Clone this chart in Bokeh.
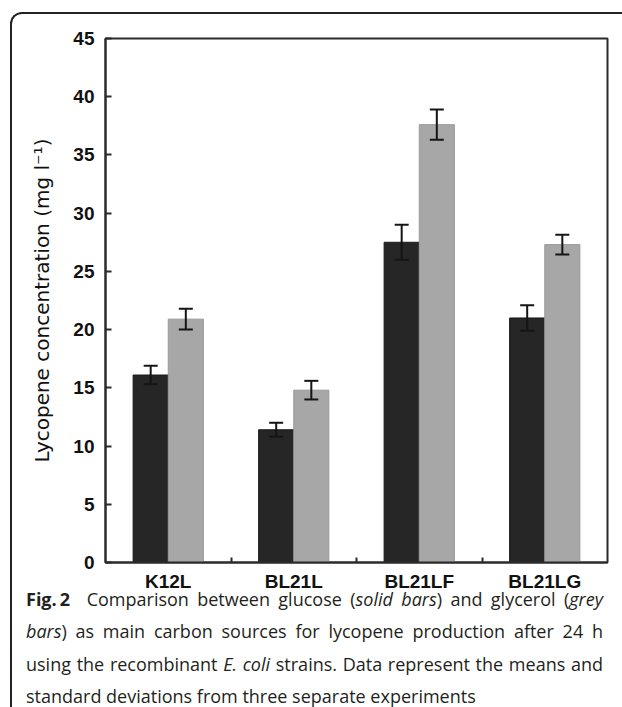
from bokeh.plotting import figure
from bokeh.models import ColumnDataSource, Range1d, FixedTicker, Whisker, TeeHead, Div
from bokeh.layouts import column
from bokeh.embed import file_html
from bokeh.resources import INLINE

# ---- data ----
categories = ["K12L", "BL21L", "BL21LF", "BL21LG"]
glucose = [16.1, 11.4, 27.5, 21.0]
glucose_sd = [0.8, 0.6, 1.5, 1.1]
glycerol = [20.9, 14.8, 37.6, 27.3]
glycerol_sd = [0.9, 0.8, 1.3, 0.85]
y_ticks = [0, 5, 10, 15, 20, 25, 30, 35, 40, 45]
y_label = "Lycopene concentration (mg l\u207b\u00b9)"

# ---- styling ----
DARK = "#262626"
GREY = "#a7a7a7"
AXIS = "#2b2b2b"
BAR_W = 0.28
DODGE = 0.14

n = len(categories)
centers = [i + 0.5 for i in range(n)]
x_glu = [c - DODGE for c in centers]
x_gly = [c + DODGE for c in centers]

src_glu = ColumnDataSource(dict(
    x=x_glu, top=glucose,
    upper=[v + s for v, s in zip(glucose, glucose_sd)],
    lower=[v - s for v, s in zip(glucose, glucose_sd)]))
src_gly = ColumnDataSource(dict(
    x=x_gly, top=glycerol,
    upper=[v + s for v, s in zip(glycerol, glycerol_sd)],
    lower=[v - s for v, s in zip(glycerol, glycerol_sd)]))

p = figure(width=603, height=582, output_backend="svg", toolbar_location=None,
           x_range=Range1d(0, n), y_range=Range1d(y_ticks[0], y_ticks[-1]),
           min_border_left=93, min_border_right=8, min_border_top=24,
           min_border_bottom=34)
p.background_fill_color = "white"
p.border_fill_color = "white"
p.outline_line_color = AXIS
p.outline_line_width = 2
p.xgrid.visible = False
p.ygrid.visible = False

p.vbar(x="x", top="top", width=BAR_W, bottom=0, source=src_glu,
       fill_color=DARK, line_color="#1a1a1a", line_width=1)
p.vbar(x="x", top="top", width=BAR_W, bottom=0, source=src_gly,
       fill_color=GREY, line_color="#9a9a9a", line_width=1)

for src in (src_glu, src_gly):
    p.add_layout(Whisker(source=src, base="x", upper="upper", lower="lower",
                         level="overlay",
                         line_color="#151515", line_width=2,
                         upper_head=TeeHead(size=14, line_width=2, line_color="#151515"),
                         lower_head=TeeHead(size=14, line_width=2, line_color="#151515")))

# y axis
ya = p.yaxis[0]
ya.ticker = FixedTicker(ticks=y_ticks, minor_ticks=[])
ya.axis_line_color = AXIS
ya.axis_line_width = 2
ya.major_tick_in = 6
ya.major_tick_out = 0
ya.major_tick_line_width = 2
ya.major_tick_line_color = AXIS
ya.minor_tick_line_color = None
ya.major_label_text_font = "Liberation Sans"
ya.major_label_text_font_style = "bold"
ya.major_label_text_font_size = "19px"
ya.major_label_text_color = "#111111"
ya.major_label_standoff = 11
ya.axis_label = y_label
ya.axis_label_text_font = "DejaVu Sans"
ya.axis_label_text_font_style = "normal"
ya.axis_label_text_font_size = "20px"
ya.axis_label_text_color = "#111111"
ya.axis_label_standoff = 16

# x axis: labels at group centres, small inward ticks between groups
xa = p.xaxis[0]
xa.ticker = FixedTicker(ticks=centers, minor_ticks=list(range(1, n)))
xa.major_label_overrides = {c: name for c, name in zip(centers, categories)}
xa.axis_line_color = AXIS
xa.axis_line_width = 2
xa.major_tick_in = 0
xa.major_tick_out = 0
xa.minor_tick_in = 5
xa.minor_tick_out = 0
xa.minor_tick_line_width = 2
xa.minor_tick_line_color = AXIS
xa.major_label_text_font = "Liberation Sans"
xa.major_label_text_font_style = "bold"
xa.major_label_text_font_size = "19px"
xa.major_label_text_color = "#111111"
xa.major_label_standoff = 8

caption_lines = [
    "<b>Fig.&thinsp;2</b>&nbsp;&nbsp;Comparison between glucose (<i>solid bars</i>) and glycerol (<i>grey</i>",
    "<i>bars</i>) as main carbon sources for lycopene production after 24 h",
    "using the recombinant <i>E. coli</i> strains. Data represent the means and",
    "standard deviations from three separate experiments",
]
line_divs = []
for i, ln in enumerate(caption_lines):
    last = "left" if i == len(caption_lines) - 1 else "justify"
    line_divs.append(f"<div style=\"width:577px;text-align:justify;text-align-last:{last}\">{ln}</div>")
cap_html = ("<div style=\"font-family:'Open Sans';font-size:18px;line-height:32.3px;color:#231f20;"
            "position:relative;top:-18px;padding-left:9px\">"
            + "".join(line_divs) + "</div>")
cap = Div(text=cap_html, width=610, height=111)

layout = column(p, cap, margin=(12, 0, 0, 10),
                styles={"border-top": "2px solid #222", "border-left": "2px solid #222",
                        "border-top-left-radius": "12px", "overflow": "hidden",
                        "background": "white"})

open("out.html", "w").write(file_html(layout, INLINE))
